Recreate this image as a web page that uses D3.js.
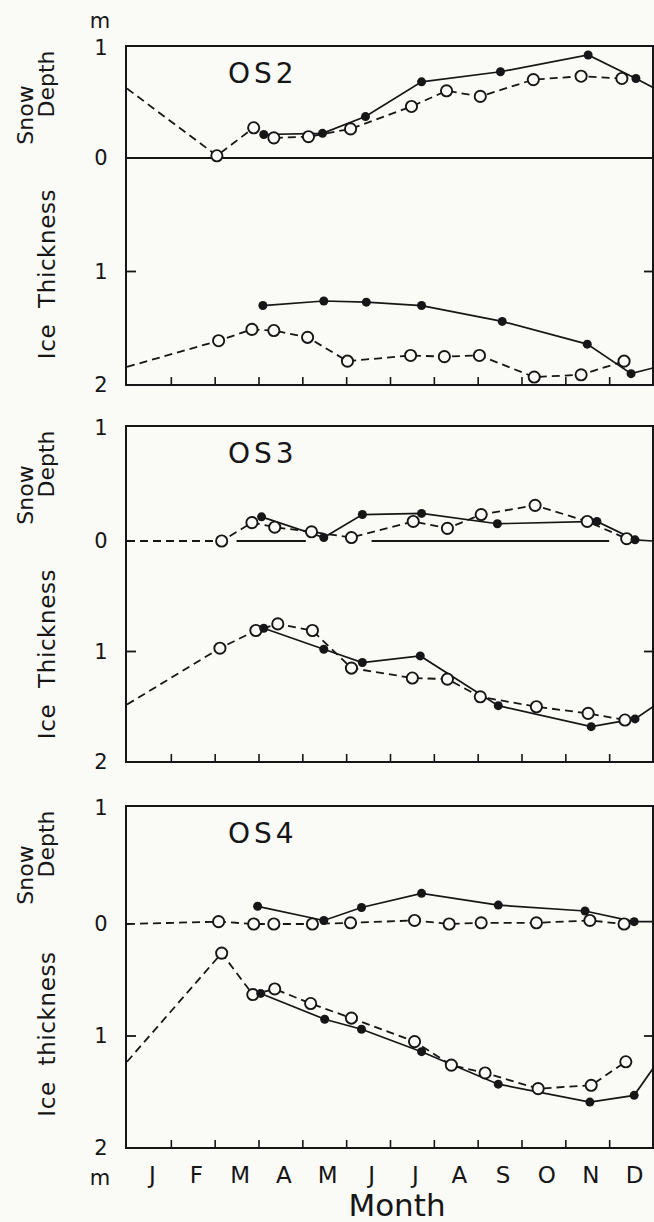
<!DOCTYPE html>
<html>
<head>
<meta charset="utf-8">
<script src="https://cdn.jsdelivr.net/npm/d3@7"></script>
<style>
  body { margin: 0; background: #fafaf7; }
  svg { display: block; font-family: "DejaVu Sans", sans-serif; }
</style>
</head>
<body>
<svg id="chart" width="654" height="1222"></svg>
<script>
// month letters along the bottom
const months = ['J', 'F', 'M', 'A', 'M', 'J', 'J', 'A', 'S', 'O', 'N', 'D'];

// [month (0 = 1 Jan), metres]; open = dashed series, filled = solid series
// lead = value at left edge (carried over from previous year), tail = value at right edge

// OS2
const os2SnowOpenLead = 0.62;
const os2SnowOpen = [[2.05, 0.02], [2.89, 0.27], [3.35, 0.18], [4.14, 0.19], [5.10, 0.26], [6.49, 0.46], [7.29, 0.60], [8.06, 0.55], [9.27, 0.70], [10.36, 0.73], [11.29, 0.71]];
const os2SnowFilled = [[3.12, 0.21], [4.46, 0.22], [5.44, 0.37], [6.72, 0.68], [8.52, 0.77], [10.52, 0.92], [11.61, 0.71]];
const os2SnowFilledTail = 0.63;
const os2IceOpenLead = 1.84;
const os2IceOpen = [[2.09, 1.61], [2.85, 1.51], [3.35, 1.52], [4.12, 1.58], [5.03, 1.79], [6.47, 1.74], [7.24, 1.75], [8.04, 1.74], [9.29, 1.93], [10.36, 1.91], [11.34, 1.79]];
const os2IceFilled = [[3.10, 1.30], [4.49, 1.26], [5.46, 1.27], [6.72, 1.30], [8.56, 1.44], [10.50, 1.64], [11.50, 1.90]];
const os2IceFilledTail = 1.85;
const os2ZeroSegments = [[0, 12]];

// OS3
const os3SnowOpenLead = 0.0;
const os3SnowOpen = [[2.16, 0.0], [2.85, 0.16], [3.37, 0.12], [4.21, 0.08], [5.12, 0.03], [6.53, 0.17], [7.31, 0.11], [8.08, 0.23], [9.31, 0.31], [10.50, 0.17], [11.40, 0.02]];
const os3SnowFilled = [[3.07, 0.21], [4.49, 0.03], [5.37, 0.23], [6.72, 0.24], [8.45, 0.15], [10.72, 0.17], [11.59, 0.01]];
const os3SnowFilledTail = 0.0;
const os3IceOpenLead = 1.48;
const os3IceOpen = [[2.12, 0.97], [2.94, 0.81], [3.44, 0.75], [4.23, 0.81], [5.12, 1.15], [6.51, 1.24], [7.31, 1.25], [8.06, 1.41], [9.34, 1.50], [10.52, 1.56], [11.36, 1.62]];
const os3IceFilled = [[3.12, 0.79], [4.49, 0.98], [5.37, 1.10], [6.69, 1.04], [8.47, 1.49], [10.59, 1.68], [11.59, 1.61]];
const os3IceFilledTail = 1.50;
const os3ZeroSegments = [[2.50, 4.08], [5.58, 11.0]];

// OS4
const os4SnowOpenLead = 0.0;
const os4SnowOpen = [[2.09, 0.02], [2.89, 0.0], [3.35, 0.0], [4.23, 0.0], [5.10, 0.01], [6.56, 0.03], [7.35, 0.0], [8.08, 0.01], [9.34, 0.01], [10.56, 0.03], [11.34, 0.0]];
const os4SnowFilled = [[2.98, 0.15], [4.49, 0.03], [5.35, 0.14], [6.72, 0.26], [8.47, 0.16], [10.45, 0.11], [11.57, 0.02]];
const os4SnowFilledTail = 0.02;
const os4IceOpenLead = 1.23;
const os4IceOpen = [[2.16, 0.26], [2.87, 0.63], [3.37, 0.58], [4.19, 0.71], [5.12, 0.84], [6.56, 1.05], [7.40, 1.26], [8.17, 1.33], [9.38, 1.47], [10.59, 1.44], [11.38, 1.23]];
const os4IceFilled = [[3.05, 0.62], [4.51, 0.85], [5.35, 0.94], [6.72, 1.14], [8.47, 1.43], [10.56, 1.59], [11.57, 1.53]];
const os4IceFilledTail = 1.29;
const os4ZeroSegments = [];

const ink = '#161616';
const paper = '#fafaf7';

const panels = [
  { name: 'OS2', top: 46, zero: 158, bottom: 385, iceLabel: 'Ice  Thickness',
    snowOpen: [[0, os2SnowOpenLead], ...os2SnowOpen], snowOpenPts: os2SnowOpen,
    snowFilled: [...os2SnowFilled, [12, os2SnowFilledTail]], snowFilledPts: os2SnowFilled,
    iceOpen: [[0, os2IceOpenLead], ...os2IceOpen], iceOpenPts: os2IceOpen,
    iceFilled: [...os2IceFilled, [12, os2IceFilledTail]], iceFilledPts: os2IceFilled,
    zeroSegs: os2ZeroSegments },
  { name: 'OS3', top: 426, zero: 541, bottom: 762, iceLabel: 'Ice  Thickness',
    snowOpen: [[0, os3SnowOpenLead], ...os3SnowOpen], snowOpenPts: os3SnowOpen,
    snowFilled: [...os3SnowFilled, [12, os3SnowFilledTail]], snowFilledPts: os3SnowFilled,
    iceOpen: [[0, os3IceOpenLead], ...os3IceOpen], iceOpenPts: os3IceOpen,
    iceFilled: [...os3IceFilled, [12, os3IceFilledTail]], iceFilledPts: os3IceFilled,
    zeroSegs: os3ZeroSegments },
  { name: 'OS4', top: 806, zero: 924, bottom: 1148, iceLabel: 'Ice  thickness',
    snowOpen: [[0, os4SnowOpenLead], ...os4SnowOpen], snowOpenPts: os4SnowOpen,
    snowFilled: [...os4SnowFilled, [12, os4SnowFilledTail]], snowFilledPts: os4SnowFilled,
    iceOpen: [[0, os4IceOpenLead], ...os4IceOpen], iceOpenPts: os4IceOpen,
    iceFilled: [...os4IceFilled, [12, os4IceFilledTail]], iceFilledPts: os4IceFilled,
    zeroSegs: os4ZeroSegments }
];

const svg = d3.select('#chart');
svg.append('rect').attr('width', 654).attr('height', 1222).attr('fill', paper);

const left = 126, right = 653;
const x = d3.scaleLinear().domain([0, 12]).range([127, 653]);

panels.forEach((p, i) => {
  const g = svg.append('g');
  const snowY = d3.scaleLinear().domain([0, 1]).range([p.zero, p.top]);
  const iceY = d3.scaleLinear().domain([0, 2]).range([p.zero, p.bottom]);

  const clipId = 'clip' + i;
  svg.append('clipPath').attr('id', clipId)
    .append('rect').attr('x', left).attr('y', p.top).attr('width', right - left).attr('height', p.bottom - p.top);

  // frame
  g.append('rect')
    .attr('x', left).attr('y', p.top)
    .attr('width', right - left).attr('height', p.bottom - p.top)
    .attr('fill', 'none').attr('stroke', ink).attr('stroke-width', 2);

  // month boundary ticks on the bottom edge
  const ax = g.append('g')
    .attr('transform', `translate(0,${p.bottom})`)
    .call(d3.axisBottom(x).tickValues(d3.range(1, 12)).tickSize(-8).tickSizeOuter(0).tickFormat(''));
  ax.select('.domain').remove();
  ax.selectAll('line').attr('stroke', ink).attr('stroke-width', 1.6);

  // ice 1 m ticks on both sides
  g.append('line').attr('x1', left).attr('x2', left + 10)
    .attr('y1', iceY(1)).attr('y2', iceY(1)).attr('stroke', ink).attr('stroke-width', 1.8);
  g.append('line').attr('x1', right - 9).attr('x2', right)
    .attr('y1', iceY(1)).attr('y2', iceY(1)).attr('stroke', ink).attr('stroke-width', 1.8);

  // value labels
  const vlab = [[snowY(1) + 2, '1'], [p.zero, '0'], [iceY(1), '1'], [p.bottom + (i === 2 ? 0 : 0), '2']];
  g.selectAll('text.val').data(vlab).enter().append('text')
    .attr('class', 'val')
    .attr('x', 101).attr('y', d => d[0])
    .attr('text-anchor', 'middle').attr('dominant-baseline', 'central')
    .attr('font-size', 21).attr('fill', ink)
    .text(d => d[1]);

  // axis titles
  g.append('text')
    .attr('transform', `translate(33,${p.top + 69}) rotate(-90)`)
    .attr('text-anchor', 'middle').attr('font-size', 22).attr('fill', ink)
    .text('Snow');
  g.append('text')
    .attr('transform', `translate(54,${p.top + 38}) rotate(-90)`)
    .attr('text-anchor', 'middle').attr('font-size', 22).attr('fill', ink)
    .text('Depth');
  g.append('text')
    .attr('transform', `translate(55,${p.top + 228}) rotate(-90)`)
    .attr('text-anchor', 'middle').attr('font-size', 23).attr('fill', ink)
    .attr('letter-spacing', 0.6).style('white-space', 'pre')
    .text(p.iceLabel);

  // station name
  g.append('text')
    .attr('x', 228).attr('y', p.top + 37)
    .attr('font-size', 28).attr('letter-spacing', 4).attr('fill', ink)
    .text(p.name);

  const plot = g.append('g').attr('clip-path', `url(#${clipId})`);

  // zero baseline pieces
  plot.selectAll('line.zero').data(p.zeroSegs).enter().append('line')
    .attr('x1', d => x(d[0])).attr('x2', d => x(d[1]))
    .attr('y1', p.zero).attr('y2', p.zero)
    .attr('stroke', ink).attr('stroke-width', 2);

  const lineSnow = d3.line().x(d => x(d[0])).y(d => snowY(d[1]));
  const lineIce = d3.line().x(d => x(d[0])).y(d => iceY(d[1]));

  // dashed (open circle) series
  [[p.snowOpen, lineSnow], [p.iceOpen, lineIce]].forEach(([pts, ln]) => {
    plot.append('path').attr('d', ln(pts))
      .attr('fill', 'none').attr('stroke', ink).attr('stroke-width', 1.8)
      .attr('stroke-dasharray', '8,5');
  });
  // solid (filled circle) series
  [[p.snowFilled, lineSnow], [p.iceFilled, lineIce]].forEach(([pts, ln]) => {
    plot.append('path').attr('d', ln(pts))
      .attr('fill', 'none').attr('stroke', ink).attr('stroke-width', 1.7);
  });

  // markers
  [[p.snowOpenPts, snowY], [p.iceOpenPts, iceY]].forEach(([pts, y]) => {
    plot.selectAll(null).data(pts).enter().append('circle')
      .attr('cx', d => x(d[0])).attr('cy', d => y(d[1])).attr('r', 5.6)
      .attr('fill', paper).attr('stroke', ink).attr('stroke-width', 1.9);
  });
  [[p.snowFilledPts, snowY], [p.iceFilledPts, iceY]].forEach(([pts, y]) => {
    plot.selectAll(null).data(pts).enter().append('circle')
      .attr('cx', d => x(d[0])).attr('cy', d => y(d[1])).attr('r', 4.5)
      .attr('fill', ink);
  });
});

// month letters under the last panel
const last = panels[panels.length - 1];
const mx = svg.append('g')
  .attr('transform', `translate(3,${last.bottom})`)
  .call(d3.axisBottom(x).tickValues(d3.range(12).map(i => i + 0.5)).tickSize(0).tickPadding(19)
    .tickFormat(d => months[Math.floor(d)]));
mx.select('.domain').remove();
mx.selectAll('text').attr('font-size', 23).attr('font-family', '"DejaVu Sans", sans-serif').attr('fill', ink);

// units
svg.append('text').attr('x', 100).attr('y', 28).attr('text-anchor', 'middle')
  .attr('font-size', 21).attr('fill', ink).text('m');
svg.append('text').attr('x', 100).attr('y', 1185).attr('text-anchor', 'middle')
  .attr('font-size', 21).attr('fill', ink).text('m');

svg.append('text').attr('x', 397).attr('y', 1216).attr('text-anchor', 'middle')
  .attr('font-size', 31).attr('fill', ink).text('Month');
</script>
</body>
</html>
